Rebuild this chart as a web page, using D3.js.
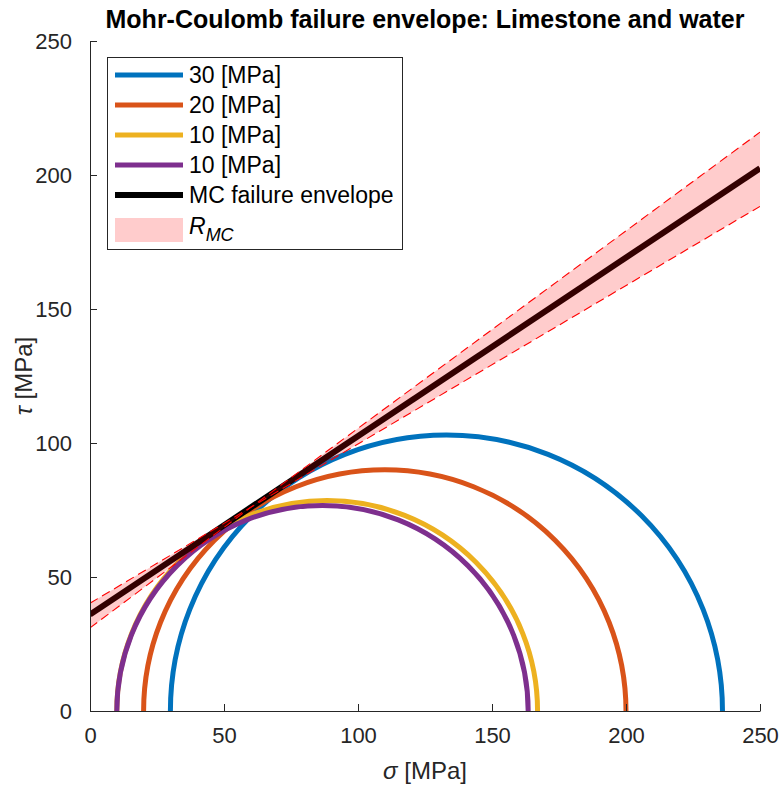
<!DOCTYPE html>
<html>
<head>
<meta charset="utf-8">
<script src="https://cdn.jsdelivr.net/npm/d3@7"></script>
<style>
  html, body { margin: 0; padding: 0; background: #fff; }
  text { font-family: "Liberation Sans", Arial, Helvetica, sans-serif; }
</style>
</head>
<body>
<svg id="chart" width="783" height="789"></svg>
<script>
// ---- data ----
const seriesLabels = ["30 [MPa]", "20 [MPa]", "10 [MPa]", "10 [MPa]"];
const sigma3 = [30, 20, 10, 10];
const sigma1 = [236, 200, 167, 163.5];
const seriesColors = ["#0072BD", "#D95319", "#EDB120", "#7E2F8E"];

const envelopeSigma = [0, 250];
const envelopeTau = [36, 202.5];

const bandSigma = [0, 60, 250];
const bandUpper = [40.2, 76, 216];
const bandLower = [31, 76, 188.3];

const xTicks = [0, 50, 100, 150, 200, 250];
const yTicks = [0, 50, 100, 150, 200, 250];

// ---- layout ----
const svg = d3.select("#chart");
const L = 90, R = 760, T = 41, B = 711;
const x = d3.scaleLinear().domain([0, 250]).range([L, R]);
const y = d3.scaleLinear().domain([0, 250]).range([B, T]);
const axisColor = "#262626";

const plot = svg.append("g");
svg.append("defs").append("clipPath").attr("id", "clip")
  .append("rect").attr("x", L).attr("y", T - 5).attr("width", R - L).attr("height", B - T + 5);
plot.attr("clip-path", "url(#clip)");

// Mohr circles (upper halves)
sigma3.forEach((s3, i) => {
  const s1 = sigma1[i];
  const r = (s1 - s3) / 2;
  const rx = x(r) - x(0), ry = y(0) - y(r);
  plot.append("path")
    .attr("d", `M${x(s3)},${y(0)} A${rx},${ry} 0 0 1 ${x(s1)},${y(0)}`)
    .attr("fill", "none")
    .attr("stroke", seriesColors[i])
    .attr("stroke-width", 5);
});

// MC envelope line
const envPts = envelopeSigma.map((s, i) => [s, envelopeTau[i]]);
plot.append("path")
  .attr("d", d3.line().x(d => x(d[0])).y(d => y(d[1]))(envPts))
  .attr("fill", "none").attr("stroke", "#000").attr("stroke-width", 6);

// band fill (red, alpha .2) on top
const bandPts = bandSigma.map((s, i) => ({ s, u: bandUpper[i], l: bandLower[i] }));
plot.append("path")
  .attr("d", d3.area().x(d => x(d.s)).y0(d => y(d.l)).y1(d => y(d.u))(bandPts))
  .attr("fill", "red").attr("fill-opacity", 0.2).attr("stroke", "none");

// dashed boundaries
[bandUpper, bandLower].forEach(arr => {
  plot.append("path")
    .attr("d", d3.line().x((d, i) => x(bandSigma[i])).y(d => y(d))(arr))
    .attr("fill", "none").attr("stroke", "red").attr("stroke-width", 1.1)
    .attr("stroke-dasharray", "9,5");
});

// ---- axes ----
const xAxis = d3.axisBottom(x).tickValues(xTicks).tickSizeInner(-7).tickSizeOuter(0).tickPadding(16);
const yAxis = d3.axisLeft(y).tickValues(yTicks).tickSizeInner(-7).tickSizeOuter(0).tickPadding(18);

const gx = svg.append("g").attr("transform", `translate(0,${B})`).call(xAxis);
const gy = svg.append("g").attr("transform", `translate(${L},0)`).call(yAxis);
[gx, gy].forEach(g => {
  g.select(".domain").attr("stroke", axisColor).attr("stroke-width", 1);
  g.selectAll(".tick line").attr("stroke", axisColor).attr("stroke-width", 1);
  g.selectAll(".tick text").attr("fill", axisColor)
    .style("font-size", "22px").style("font-family", "'Liberation Sans', Arial, sans-serif");
});
gx.selectAll(".tick text").attr("dy", "0.71em");
gy.selectAll(".tick text").attr("dy", "0.36em");

// axis labels
const xl = svg.append("text").attr("x", (L + R) / 2).attr("y", 779)
  .attr("text-anchor", "middle").attr("fill", axisColor).style("font-size", "24px");
xl.append("tspan").style("font-style", "italic").text("σ");
xl.append("tspan").text(" [MPa]");

const yl = svg.append("text")
  .attr("transform", `translate(32,${(T + B) / 2}) rotate(-90)`)
  .attr("text-anchor", "middle").attr("fill", axisColor).style("font-size", "24px");
yl.append("tspan").style("font-style", "italic").text("τ");
yl.append("tspan").text(" [MPa]");

// title
svg.append("text").attr("x", (L + R) / 2).attr("y", 28)
  .attr("text-anchor", "middle").attr("fill", "#000")
  .style("font-size", "25px").style("font-weight", "bold")
  .text("Mohr-Coulomb failure envelope: Limestone and water");

// ---- legend ----
const lg = svg.append("g");
lg.append("rect").attr("x", 107.5).attr("y", 57.5).attr("width", 295).attr("height", 192)
  .attr("fill", "#fff").attr("stroke", axisColor).attr("stroke-width", 1);
const rowY = [75, 105, 135, 165, 195, 230];
const legendItems = seriesLabels.map((lab, i) => ({ lab, color: seriesColors[i], w: 5 }))
  .concat([{ lab: "MC failure envelope", color: "#000", w: 6 }]);
legendItems.forEach((d, i) => {
  lg.append("line").attr("x1", 115).attr("x2", 183).attr("y1", rowY[i]).attr("y2", rowY[i])
    .attr("stroke", d.color).attr("stroke-width", d.w);
  lg.append("text").attr("x", 189).attr("y", rowY[i] + 8).attr("fill", "#000")
    .style("font-size", "23px").text(d.lab);
});
lg.append("rect").attr("x", 115).attr("y", 218).attr("width", 68).attr("height", 24)
  .attr("fill", "red").attr("fill-opacity", 0.2);
const rt = lg.append("text").attr("x", 189).attr("y", 234).attr("fill", "#000").style("font-size", "23px");
rt.append("tspan").style("font-style", "italic").text("R");
rt.append("tspan").style("font-style", "italic").style("font-size", "18px").attr("dy", 7).text("MC");
</script>
</body>
</html>
